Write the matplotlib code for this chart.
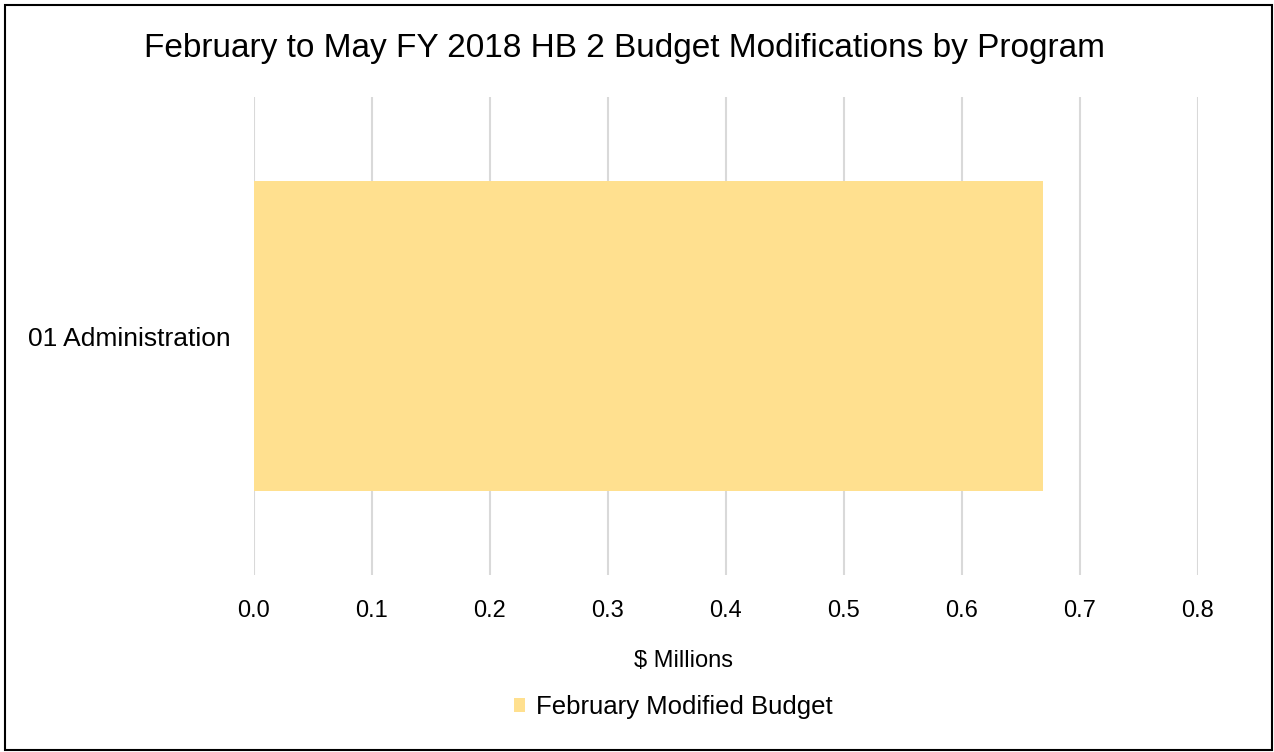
import matplotlib.pyplot as plt
from matplotlib.patches import Rectangle

plt.rcParams['font.family'] = ['Liberation Sans', 'DejaVu Sans']

# data
programs = ['01 Administration']
feb_modified = [0.669]
x_ticks = [0.0, 0.1, 0.2, 0.3, 0.4, 0.5, 0.6, 0.7, 0.8]

fig = plt.figure(figsize=(12.74, 7.52), dpi=100)
ax = fig.add_axes([254 / 1274, 1 - 575 / 752, (1198 - 254) / 1274, (575 - 97) / 752])

bars = ax.barh(programs, feb_modified, height=0.65, color='#FFE08F',
               label='February Modified Budget', zorder=2)

ax.set_xlim(0, 0.8)
ax.set_ylim(-0.5, 0.5)
ax.set_xticks(x_ticks)
ax.set_xticklabels(['%.1f' % t for t in x_ticks], fontsize=17)
ax.tick_params(axis='x', length=0, pad=18, labelcolor='#000000')
ax.tick_params(axis='y', length=0, labelsize=19, pad=17)
ax.grid(axis='x', color='#d9d9d9', linewidth=1.5, zorder=0)
for s in ax.spines.values():
    s.set_visible(False)

ax.set_xlabel('$ Millions', fontsize=17, labelpad=20)
ax.xaxis.label.set_x((684 - 254) / 944)
fig.text(625 / 1274, 1 - 49 / 752, 'February to May FY 2018 HB 2 Budget Modifications by Program',
         fontsize=24, ha='center', va='center')

fig.legend(handles=[bars], loc='center', bbox_to_anchor=(673 / 1274, 1 - 707 / 752),
           frameon=False, fontsize=18.5, handlelength=0.45, handleheight=0.45,
           handletextpad=0.4)

fig.patches.append(Rectangle((5 / 1274, 0.002), 1 - 7 / 1274, 1 - 7 / 752,
                             transform=fig.transFigure, fill=False,
                             edgecolor='black', linewidth=1.5))

fig.savefig('out.png', dpi=100)
